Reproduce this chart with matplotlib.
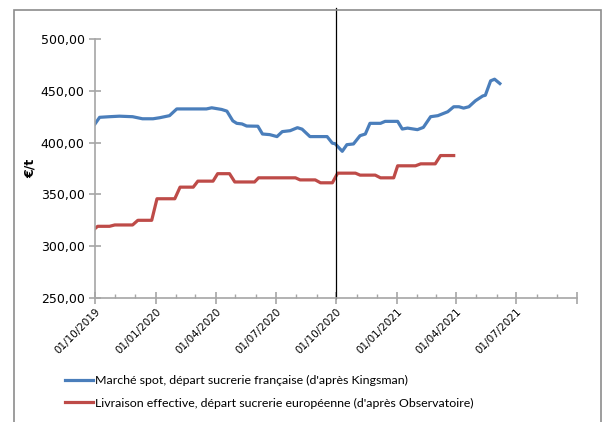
import pandas as pd
import matplotlib.pyplot as plt
import matplotlib.dates as mdates
from matplotlib.patches import Rectangle

spot_dates = ["2019-10-01", "2019-10-08", "2019-10-23", "2019-11-07", "2019-11-27", "2019-12-12",
              "2019-12-28", "2020-01-07", "2020-01-22", "2020-02-02", "2020-03-18", "2020-03-26",
              "2020-04-10", "2020-04-18", "2020-04-27", "2020-05-03", "2020-05-11", "2020-05-18",
              "2020-06-04", "2020-06-11", "2020-06-22", "2020-07-03", "2020-07-11", "2020-07-23",
              "2020-08-03", "2020-08-10", "2020-08-22", "2020-09-17", "2020-09-25", "2020-09-29",
              "2020-10-10", "2020-10-17", "2020-10-27", "2020-11-06", "2020-11-14", "2020-11-21",
              "2020-12-07", "2020-12-14", "2021-01-02", "2021-01-09", "2021-01-17", "2021-02-01",
              "2021-02-10", "2021-02-21", "2021-03-04", "2021-03-19", "2021-03-28", "2021-04-05",
              "2021-04-12", "2021-04-20", "2021-04-30", "2021-05-11", "2021-05-15", "2021-05-23",
              "2021-05-29", "2021-06-06"]
spot_values = [418, 424.4, 425, 425.5, 425, 423, 423, 424, 426, 432.5, 432.5, 433.6,
               432, 430.4, 421, 418.6, 418, 416, 415.8, 408.3, 407.7, 405.8, 410.6, 411.5,
               414.4, 413, 405.8, 405.8, 399.4, 399, 391.6, 398, 398.7, 406.7, 408.3, 418.6,
               418.6, 420.5, 420.5, 413.1, 414, 412.5, 414.7, 425, 426, 429.8, 434.6, 434.6,
               433.3, 434.6, 440.4, 445, 445.7, 459.6, 461.2, 457]

deliv_dates = ["2019-10-01", "2019-10-05", "2019-10-23", "2019-10-31", "2019-11-27", "2019-12-05",
               "2019-12-26", "2020-01-03", "2020-01-30", "2020-02-07", "2020-02-27", "2020-03-05",
               "2020-03-28", "2020-04-04", "2020-04-22", "2020-04-30", "2020-05-30", "2020-06-05",
               "2020-07-31", "2020-08-07", "2020-08-30", "2020-09-07", "2020-09-25", "2020-10-03",
               "2020-10-30", "2020-11-06", "2020-11-29", "2020-12-07", "2020-12-27", "2021-01-02",
               "2021-01-29", "2021-02-06", "2021-02-28", "2021-03-08", "2021-03-28"]
deliv_values = [317, 319.2, 319.2, 320.5, 320.5, 325, 325, 345.8, 345.8, 357, 357, 362.8,
                362.8, 370, 370, 362, 362, 366, 366, 364, 364, 361.2, 361.2, 370.5,
                370.5, 368.6, 368.6, 366, 366, 377.6, 377.6, 379.5, 379.5, 387.5, 387.5]

tick_dates = ["2019-10-01", "2020-01-01", "2020-04-01", "2020-07-01", "2020-10-01",
              "2021-01-01", "2021-04-01", "2021-07-01", "2021-10-01"]
tick_labels = ["01/10/2019", "01/01/2020", "01/04/2020", "01/07/2020", "01/10/2020",
               "01/01/2021", "01/04/2021", "01/07/2021", ""]
y_ticks = [250, 300, 350, 400, 450, 500]
marker_date = "2020-10-01"

spot_label = "Marché spot, départ sucrerie française (d'après Kingsman)"
deliv_label = "Livraison effective, départ sucrerie européenne (d'après Observatoire)"

fig = plt.figure(figsize=(6.06, 4.22), dpi=100)
fig.patches.append(Rectangle((14 / 606, -0.1), 587 / 606, 1.1 - 10 / 422,
                             transform=fig.transFigure, fill=False,
                             edgecolor="#8c8c8c", linewidth=1.2))
ax = fig.add_axes([95 / 606, 1 - 298 / 422, 482 / 606, 259 / 422])

ax.plot(pd.to_datetime(spot_dates), spot_values, color="#4a7ebb", linewidth=2.3,
        label=spot_label, solid_joinstyle="round")
ax.plot(pd.to_datetime(deliv_dates), deliv_values, color="#be4b48", linewidth=2.3,
        label=deliv_label, solid_joinstyle="round")
ax.axvline(pd.Timestamp(marker_date), ymin=0, ymax=1.12, color="black",
           linewidth=0.9, clip_on=False)

ax.set_xlim(pd.Timestamp(tick_dates[0]), pd.Timestamp(tick_dates[-1]))
ax.set_ylim(250, 500)
ax.set_yticks(y_ticks)
ax.set_yticklabels([f"{v:.2f}".replace(".", ",") for v in y_ticks], fontsize=9)
ax.set_xticks(pd.to_datetime(tick_dates))
ax.set_xticklabels(tick_labels, rotation=45, ha="right", rotation_mode="anchor",
                   fontsize=7.5)
ax.xaxis.set_minor_locator(mdates.MonthLocator())

for side in ["top", "right"]:
    ax.spines[side].set_visible(False)
for side in ["left", "bottom"]:
    ax.spines[side].set_color("#a6a6a6")
    ax.spines[side].set_linewidth(1.2)
ax.tick_params(which="major", direction="inout", length=8, color="#a6a6a6", width=1.2)
ax.tick_params(which="minor", direction="in", length=3, color="#a6a6a6", width=1)
ax.tick_params(axis="x", which="major", pad=2)

ax.set_ylabel("€/t", fontweight="bold", fontsize=9, labelpad=3)

fig.legend(loc="upper left", bbox_to_anchor=(60 / 606, 1 - 370 / 422), frameon=False,
           prop={"family": "Lato", "size": 8.9}, handlelength=2.3, handletextpad=0.15,
           labelspacing=0.95, borderaxespad=0)

fig.savefig("out.png", dpi=100)
